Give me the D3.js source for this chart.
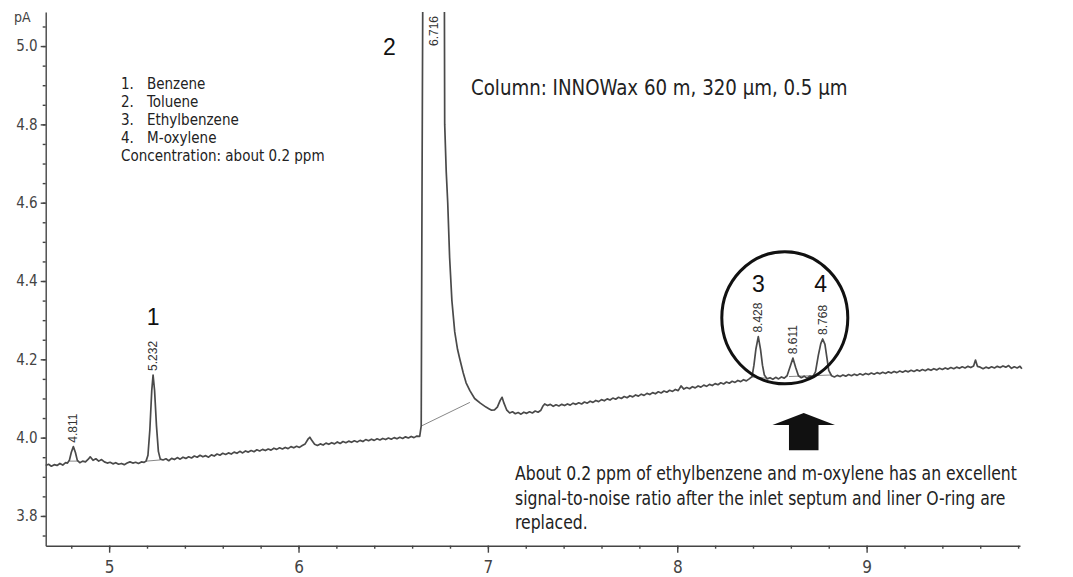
<!DOCTYPE html>
<html>
<head>
    <meta charset="UTF-8">
    <title>chromatogram</title>
    <style>
        body { margin: 0; background: #fff; }
        svg { display: block; }
        text { font-family: "Liberation Sans Narrow", "DejaVu Sans Condensed", "Arial Narrow", sans-serif; fill: #222; }
        .axis path, .axis line { stroke: #444; stroke-width: 1.4px; }
        .axis text { fill: #444; font-size: 15px; }
        .axis--x text { font-size: 17px; }
        .trace { fill: none; stroke: #4a4a4a; stroke-width: 1.7px; stroke-linejoin: round; }
        .ibase { stroke: #888; stroke-width: 1px; }
        .rt { font-family: "Liberation Sans", Arial, sans-serif; font-size: 12px; fill: #333; }
        .num { font-family: "Liberation Sans", Arial, sans-serif; font-size: 23px; fill: #111; }
    </style>
</head>
<body>
<svg width="1073" height="577"></svg>
<script src="https://cdn.jsdelivr.net/npm/d3@7"></script>
<script>

    // 轴刻度
    var xTicks = [5, 6, 7, 8, 9];
    var yTicks = [3.8, 4.0, 4.2, 4.4, 4.6, 4.8, 5.0];

    // 色谱信号 [时间 min, pA]
    var segBenzene = [
        [4.665, 3.929], [4.68, 3.932], [4.695, 3.927], [4.71, 3.931], [4.725, 3.929], [4.74, 3.934], [4.755, 3.930],
        [4.77, 3.936], [4.78, 3.935], [4.79, 3.942], [4.80, 3.962], [4.811, 3.977], [4.822, 3.962], [4.832, 3.942],
        [4.845, 3.936], [4.86, 3.940], [4.875, 3.938], [4.89, 3.945], [4.90, 3.951], [4.915, 3.942], [4.93, 3.946],
        [4.945, 3.940], [4.96, 3.944], [4.975, 3.938], [4.99, 3.935], [5.005, 3.937], [5.02, 3.933], [5.035, 3.936],
        [5.05, 3.932], [5.065, 3.934], [5.08, 3.931], [5.095, 3.935], [5.11, 3.938], [5.125, 3.935], [5.14, 3.937],
        [5.155, 3.934], [5.17, 3.938], [5.185, 3.937], [5.195, 3.940], [5.205, 3.955], [5.215, 4.02], [5.225, 4.12],
        [5.232, 4.160], [5.24, 4.12], [5.25, 4.03], [5.26, 3.965], [5.27, 3.945], [5.285, 3.943], [5.30, 3.946],
        [5.315, 3.941], [5.33, 3.947], [5.345, 3.944], [5.36, 3.949], [5.375, 3.945], [5.39, 3.950], [5.405, 3.947],
        [5.42, 3.951], [5.435, 3.948], [5.45, 3.953], [5.465, 3.950], [5.48, 3.955], [5.495, 3.951], [5.51, 3.954],
        [5.525, 3.950], [5.54, 3.956], [5.555, 3.953], [5.57, 3.958], [5.585, 3.955], [5.60, 3.960], [5.615, 3.957],
        [5.63, 3.961], [5.645, 3.958], [5.66, 3.963], [5.675, 3.960], [5.69, 3.965], [5.705, 3.961], [5.72, 3.966],
        [5.735, 3.963], [5.75, 3.967], [5.765, 3.964], [5.78, 3.969], [5.795, 3.966], [5.81, 3.970], [5.825, 3.967],
        [5.84, 3.971], [5.855, 3.968], [5.87, 3.973], [5.885, 3.970], [5.90, 3.974], [5.915, 3.971], [5.93, 3.975],
        [5.945, 3.972], [5.96, 3.977], [5.975, 3.974], [5.99, 3.978], [6.005, 3.975], [6.02, 3.980], [6.035, 3.984],
        [6.05, 3.996], [6.06, 4.001], [6.07, 3.993], [6.085, 3.983], [6.10, 3.980], [6.115, 3.984], [6.13, 3.981],
        [6.145, 3.986], [6.16, 3.983], [6.175, 3.987], [6.19, 3.984], [6.205, 3.989], [6.22, 3.985], [6.235, 3.990],
        [6.25, 3.987], [6.265, 3.991], [6.28, 3.988], [6.295, 3.992], [6.31, 3.989], [6.325, 3.993], [6.34, 3.990],
        [6.355, 3.995], [6.37, 3.992], [6.385, 3.996], [6.40, 3.993], [6.415, 3.997], [6.43, 3.994], [6.445, 3.998],
        [6.46, 3.995], [6.475, 3.999], [6.49, 3.996], [6.505, 4.000], [6.52, 3.997], [6.535, 4.001], [6.55, 3.998],
        [6.565, 4.002], [6.58, 3.999], [6.595, 4.003], [6.61, 4.000], [6.625, 4.004], [6.64, 4.003]
    ];
    var segToluene = [
        [6.648, 4.03], [6.652, 4.6], [6.66, 5.6], [6.716, 6.3], [6.768, 5.6], [6.770, 5.2], [6.772, 4.80],
        [6.780, 4.68], [6.788, 4.60], [6.798, 4.46], [6.810, 4.35], [6.825, 4.27], [6.84, 4.225], [6.852, 4.20],
        [6.87, 4.165], [6.885, 4.14], [6.905, 4.12], [6.93, 4.10], [6.96, 4.088], [6.99, 4.078],
        [7.005, 4.074], [7.02, 4.070], [7.035, 4.071], [7.05, 4.078], [7.065, 4.095], [7.075, 4.103],
        [7.085, 4.088], [7.10, 4.070], [7.115, 4.063], [7.13, 4.066], [7.145, 4.061], [7.16, 4.064], [7.175, 4.060],
        [7.19, 4.065], [7.205, 4.062], [7.22, 4.066], [7.235, 4.063], [7.25, 4.068], [7.265, 4.065], [7.28, 4.070],
        [7.29, 4.080], [7.30, 4.086], [7.315, 4.082], [7.33, 4.085], [7.345, 4.080], [7.36, 4.084], [7.375, 4.081],
        [7.39, 4.085], [7.405, 4.082], [7.42, 4.086], [7.435, 4.083], [7.45, 4.088], [7.465, 4.085], [7.48, 4.089],
        [7.495, 4.086], [7.51, 4.091], [7.525, 4.088], [7.54, 4.093], [7.555, 4.090], [7.57, 4.095], [7.585, 4.092],
        [7.60, 4.097], [7.615, 4.094], [7.63, 4.099], [7.645, 4.096], [7.66, 4.101], [7.675, 4.098], [7.69, 4.103],
        [7.705, 4.100], [7.72, 4.105], [7.735, 4.102], [7.75, 4.107], [7.765, 4.104], [7.78, 4.109], [7.795, 4.106],
        [7.81, 4.111], [7.825, 4.108], [7.84, 4.113], [7.855, 4.110], [7.87, 4.115], [7.885, 4.112], [7.90, 4.117],
        [7.915, 4.114], [7.93, 4.119], [7.945, 4.116], [7.96, 4.121], [7.975, 4.118], [7.99, 4.123], [8.005, 4.120],
        [8.02, 4.132], [8.035, 4.124], [8.05, 4.128], [8.065, 4.125], [8.08, 4.130], [8.095, 4.127], [8.11, 4.132],
        [8.125, 4.129], [8.14, 4.134], [8.155, 4.131], [8.17, 4.136], [8.185, 4.133], [8.20, 4.138], [8.215, 4.135],
        [8.23, 4.140], [8.245, 4.137], [8.26, 4.142], [8.275, 4.139], [8.29, 4.144], [8.305, 4.141], [8.32, 4.146],
        [8.335, 4.143], [8.35, 4.148], [8.365, 4.145], [8.38, 4.150]
    ];
    var segXylene = [
        [8.395, 4.156], [8.405, 4.185], [8.415, 4.225], [8.428, 4.258], [8.44, 4.225], [8.45, 4.185], [8.46, 4.160],
        [8.475, 4.150], [8.49, 4.153], [8.505, 4.149], [8.52, 4.154], [8.535, 4.150], [8.55, 4.155], [8.565, 4.152],
        [8.58, 4.158], [8.595, 4.180], [8.611, 4.203], [8.625, 4.180], [8.64, 4.158], [8.655, 4.153], [8.67, 4.157],
        [8.685, 4.152], [8.70, 4.157], [8.715, 4.155], [8.73, 4.168], [8.745, 4.210], [8.758, 4.240], [8.768, 4.252],
        [8.78, 4.238], [8.79, 4.205], [8.80, 4.172], [8.815, 4.158], [8.83, 4.155], [8.845, 4.159], [8.86, 4.156],
        [8.875, 4.160], [8.89, 4.157], [8.905, 4.161], [8.92, 4.158], [8.935, 4.162], [8.95, 4.159], [8.965, 4.163],
        [8.98, 4.160], [8.995, 4.164], [9.01, 4.161], [9.025, 4.165], [9.04, 4.162], [9.055, 4.166], [9.07, 4.163],
        [9.085, 4.167], [9.10, 4.164], [9.115, 4.168], [9.13, 4.165], [9.145, 4.169], [9.16, 4.166], [9.175, 4.170],
        [9.19, 4.167], [9.205, 4.171], [9.22, 4.168], [9.235, 4.172], [9.25, 4.169], [9.265, 4.173], [9.28, 4.170],
        [9.295, 4.174], [9.31, 4.171], [9.325, 4.175], [9.34, 4.172], [9.355, 4.176], [9.37, 4.173], [9.385, 4.177],
        [9.40, 4.174], [9.415, 4.178], [9.43, 4.175], [9.445, 4.179], [9.46, 4.176], [9.475, 4.180], [9.49, 4.177],
        [9.505, 4.181], [9.52, 4.178], [9.535, 4.182], [9.55, 4.179], [9.565, 4.183], [9.575, 4.198], [9.585, 4.182],
        [9.60, 4.180], [9.615, 4.176], [9.63, 4.180], [9.645, 4.177], [9.66, 4.181], [9.675, 4.178], [9.69, 4.182],
        [9.705, 4.179], [9.72, 4.183], [9.735, 4.180], [9.75, 4.184], [9.765, 4.177], [9.78, 4.181], [9.795, 4.178],
        [9.81, 4.182], [9.82, 4.176]
    ];

    // 积分基线
    var integrationBaselines = [
        [[4.79, 3.940], [4.835, 3.940]],
        [[5.197, 3.940], [5.27, 3.943]],
        [[6.65, 4.030], [6.905, 4.090]],
        [[8.39, 4.155], [8.47, 4.152]],
        [[8.59, 4.156], [8.815, 4.160]]
    ];

    // 峰保留时间标注
    var peakTimes = [4.811, 5.232, 6.716, 8.428, 8.611, 8.768];
    var peakTops = [3.977, 4.160, 4.99, 4.258, 4.203, 4.252];

    // 化合物编号
    var compoundNums = ["1", "2", "3", "4"];
    var compoundTimes = [5.232, 6.48, 8.428, 8.757];
    var compoundLevels = [4.288, 4.977, 4.372, 4.372];

    var legendLines = ["1.", "2.", "3.", "4."];
    var legendNames = ["Benzene", "Toluene", "Ethylbenzene", "M-oxylene"];

    var svg = d3.select("svg");
    var x = d3.scaleLinear().domain([4.665, 9.81]).range([45.7, 1020]);
    var y = d3.scaleLinear().domain([3.724, 5.087]).range([545.7, 12]);

    svg.append("defs").append("clipPath").attr("id", "plot")
        .append("rect").attr("x", 45).attr("y", 12).attr("width", 990).attr("height", 534);

    // 次刻度
    svg.append("g").attr("class", "axis")
        .attr("transform", "translate(0," + y.range()[0] + ")")
        .call(d3.axisBottom(x).tickValues(d3.range(4.8, 9.81, 0.2)).tickSize(3).tickSizeOuter(0).tickFormat(""));
    svg.append("g").attr("class", "axis")
        .attr("transform", "translate(" + x.range()[0] + ",0)")
        .call(d3.axisLeft(y).tickValues(d3.range(3.75, 5.06, 0.05)).tickSize(3).tickSizeOuter(0).tickFormat(""));

    // 主刻度
    svg.append("g").attr("class", "axis axis--x")
        .attr("transform", "translate(0," + y.range()[0] + ")")
        .call(d3.axisBottom(x).tickValues(xTicks).tickSize(7).tickSizeOuter(0).tickPadding(8).tickFormat(d3.format("d")))
        .select(".domain").remove();
    svg.append("g").attr("class", "axis axis--y")
        .attr("transform", "translate(" + x.range()[0] + ",0)")
        .call(d3.axisLeft(y).tickValues(yTicks).tickSize(5).tickSizeOuter(0).tickPadding(3).tickFormat(d3.format(".1f")))
        .select(".domain").remove();

    svg.append("text").attr("x", 14).attr("y", 22).style("font-size", "14px").style("fill", "#444").text("pA");

    var line = d3.line().x(function (d) { return x(d[0]); }).y(function (d) { return y(d[1]); });
    var plot = svg.append("g").attr("clip-path", "url(#plot)");

    plot.selectAll(".ibase").data(integrationBaselines).enter().append("path")
        .attr("class", "ibase").attr("d", line);

    plot.append("path").datum(segBenzene.concat(segToluene, segXylene))
        .attr("class", "trace").attr("d", line);

    // 保留时间（竖排）
    svg.selectAll(".rt").data(peakTimes).enter().append("text")
        .attr("class", "rt")
        .attr("transform", function (d, i) {
            return "translate(" + (x(d) + 4) + "," + (y(peakTops[i]) - 4) + ") rotate(-90)";
        })
        .text(function (d) { return d3.format(".3f")(d); });

    svg.selectAll(".num").data(compoundNums).enter().append("text")
        .attr("class", "num").attr("text-anchor", "middle")
        .attr("x", function (d, i) { return x(compoundTimes[i]); })
        .attr("y", function (d, i) { return y(compoundLevels[i]); })
        .text(function (d) { return d; });

    // 圈和箭头
    svg.append("ellipse")
        .attr("cx", x(8.568)).attr("cy", y(4.306)).attr("rx", 63).attr("ry", 66)
        .attr("fill", "none").attr("stroke", "#111").attr("stroke-width", 3);

    var ac = 8.668;
    var arrowPts = [[ac - 0.165, 4.032], [ac, 4.063], [ac + 0.165, 4.032], [ac + 0.078, 4.032],
        [ac + 0.078, 3.968], [ac - 0.078, 3.968], [ac - 0.078, 4.032]];
    svg.append("path").datum(arrowPts).attr("d", line.curve(d3.curveLinearClosed)).attr("fill", "#111");

    // 窄体文字：水平压缩
    function narrowText(parent, px, py, str, size, sx) {
        parent.append("text")
            .attr("transform", "translate(" + px + "," + py + ") scale(" + sx + ",1)")
            .style("font-size", size + "px")
            .text(str);
    }

    // 图例
    var legend = svg.append("g");
    legendLines.forEach(function (s, i) {
        narrowText(legend, 121, 89 + i * 18, s, 15, 1);
        narrowText(legend, 147, 89 + i * 18, legendNames[i], 15, 1);
    });
    narrowText(legend, 121, 89 + 4 * 18, "Concentration: about 0.2 ppm", 15, 1);

    narrowText(svg, 471, 95, "Column: INNOWax 60 m, 320 µm, 0.5 µm", 21, 0.964);

    var note = ["About 0.2 ppm of ethylbenzene and m-oxylene has an excellent",
        "signal-to-noise ratio after the inlet septum and liner O-ring are",
        "replaced."];
    note.forEach(function (s, i) {
        narrowText(svg, 515, 480 + i * 24.5, s, 20, 0.87);
    });

</script>
</body>
</html>
